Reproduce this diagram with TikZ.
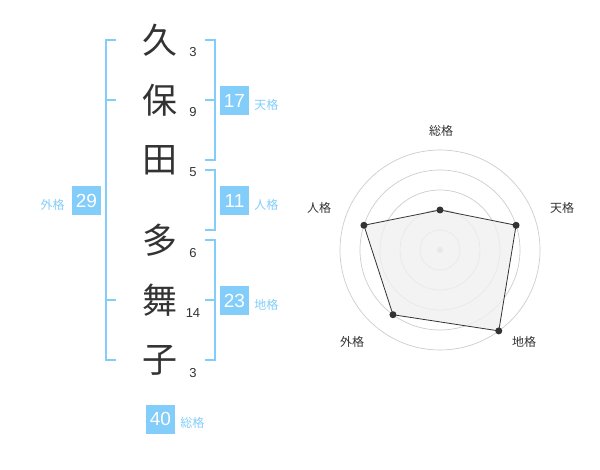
\documentclass[tikz,border=0pt]{standalone}
\usepackage{fontspec}
\setmainfont{Liberation Sans}
\newfontfamily\jp{Noto Sans CJK JP}
\usetikzlibrary{positioning,calc}
\definecolor{gblue}{RGB}{130,205,250}
\definecolor{ink}{RGB}{51,51,51}
\begin{document}
\begin{tikzpicture}[x=1pt, y=-1pt,
    kanji/.style = {font=\jp\fontsize{35}{35}\selectfont, text=ink, inner sep=0pt},
    stroke/.style = {font=\fontsize{13}{13}\selectfont, text=ink, inner sep=0pt},
    numbox/.style = {fill=gblue, text=white, font=\fontsize{19}{19}\selectfont, minimum width=29pt, minimum height=29pt, inner sep=0pt},
    kaku/.style = {font=\jp\fontsize{12}{12}\selectfont, text=gblue, inner sep=0pt},
    brk/.style = {draw=gblue, line width=2pt},
    ring/.style = {draw=black!20, line width=0.7pt},
    axislab/.style = {font=\jp\fontsize{12}{12}\selectfont, text=ink, inner sep=0pt},
    dot/.style = {circle, fill=ink, inner sep=0pt, minimum size=7pt}]
    \useasboundingbox (0,0) rectangle (600,470);
    % name column
    \node[kanji] (k1) at (160,40) {久};
    \node[kanji] (k2) at (160,100) {保};
    \node[kanji] (k3) at (160,160) {田};
    \node[kanji] (k4) at (160,240) {多};
    \node[kanji] (k5) at (160,300) {舞};
    \node[kanji] (k6) at (160,360) {子};
    \node[stroke] (s1) at (193,52) {3};
    \node[stroke] (s2) at (193,112) {9};
    \node[stroke] (s3) at (193,172) {5};
    \node[stroke] (s4) at (193,253) {6};
    \node[stroke] (s5) at (193,313) {14};
    \node[stroke] (s6) at (193,373) {3};
    %
    \draw[brk] (116,40) -- (106,40) -- (106,360) -- (116,360);
    \draw[brk] (106,100) -- (116,100);
    \draw[brk] (106,300) -- (116,300);
    \draw[brk] (205,40) -- (215,40) -- (215,160) -- (205,160);
    \draw[brk] (205,100) -- (215,100);
    \draw[brk] (205,170) -- (215,170) -- (215,230) -- (205,230);
    \draw[brk] (205,240) -- (215,240) -- (215,360) -- (205,360);
    \draw[brk] (205,300) -- (215,300);
    %
    \node[numbox] (ten) at (234.5,100.5) {17};
    \node[kaku] (tenl) [right=5pt of ten, yshift=-4pt] {天格};
    \node[numbox] (jin) at (234.5,200.5) {11};
    \node[kaku] (jinl) [right=5pt of jin, yshift=-4pt] {人格};
    \node[numbox] (chi) at (234.5,301) {23};
    \node[kaku] (chil) [right=5pt of chi, yshift=-4pt] {地格};
    \node[numbox] (gai) at (86.5,200.5) {29};
    \node[kaku] (gail) [left=7pt of gai, yshift=-4pt] {外格};
    \node[numbox] (sou) at (160.5,419) {40};
    \node[kaku] (soul) [right=5pt of sou, yshift=-4pt] {総格};
    % radar
    \coordinate (c) at (440,250);
    \draw[ring] (c) circle (20) (c) circle (40) (c) circle (60) (c) circle (80) (c) circle (100);
    \fill[black!20] (c) circle (3);
    \coordinate (vs) at ($(c)+(-90:40)$);
    \coordinate (vt) at ($(c)+(-18:80)$);
    \coordinate (vc) at ($(c)+(54:100)$);
    \coordinate (vg) at ($(c)+(126:80)$);
    \coordinate (vj) at ($(c)+(198:80)$);
    \draw[fill=black!6, fill opacity=0.8, draw=ink, line width=0.8pt] (vs) -- (vt) -- (vc) -- (vg) -- (vj) -- cycle;
    \node[dot] (ds) at (vs) {};
    \node[dot] (dt) at (vt) {};
    \node[dot] (dc) at (vc) {};
    \node[dot] (dg) at (vg) {};
    \node[dot] (dj) at (vj) {};
    \node[axislab] (as) at (441,131) {総格};
    \node[axislab] (at) at (562,208) {天格};
    \node[axislab] (ac) at (524,342) {地格};
    \node[axislab] (ag) at (352,342) {外格};
    \node[axislab] (aj) at (319,208) {人格};
\end{tikzpicture}
\end{document}
